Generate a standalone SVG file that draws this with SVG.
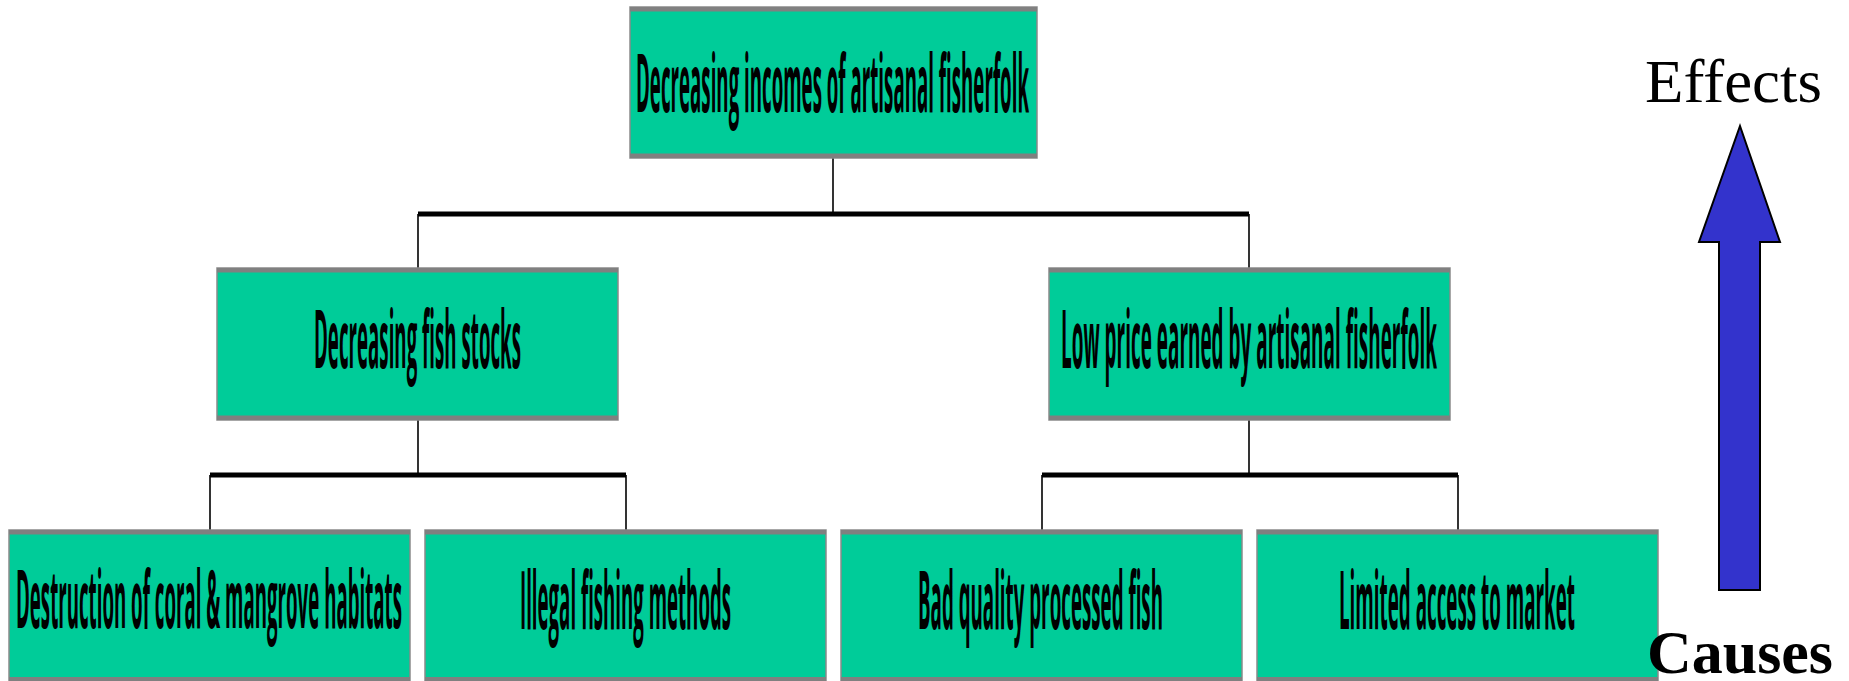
<svg xmlns="http://www.w3.org/2000/svg" width="1849" height="681" viewBox="0 0 1849 681">
  <style>
    .box { fill: #00CC99; stroke: #8a8a8a; stroke-width: 1.5; }
    .edge { fill: #808080; }
    .label { font-family: "Open Sans", "Noto Sans", sans-serif; font-weight: bold; font-size: 80px; fill: #000; text-anchor: middle; }
    .bar { stroke: #000; stroke-width: 5; fill: none; }
    .link { stroke: #000; stroke-width: 1.6; fill: none; }
    .side { font-family: "Liberation Serif", "Times New Roman", serif; fill: #000; }
  </style>

  <!-- connectors -->
  <g id="connectors">
    <line class="link" x1="833" y1="158" x2="833" y2="214"/>
    <line class="link" x1="418" y1="214" x2="418" y2="268"/>
    <line class="link" x1="1249" y1="214" x2="1249" y2="268"/>
    <line class="bar" x1="418" y1="214" x2="1249" y2="214"/>

    <line class="link" x1="418" y1="420" x2="418" y2="475"/>
    <line class="link" x1="210" y1="475" x2="210" y2="530"/>
    <line class="link" x1="626" y1="475" x2="626" y2="530"/>
    <line class="bar" x1="210" y1="475" x2="626" y2="475"/>

    <line class="link" x1="1249" y1="420" x2="1249" y2="475"/>
    <line class="link" x1="1042" y1="475" x2="1042" y2="530"/>
    <line class="link" x1="1458" y1="475" x2="1458" y2="530"/>
    <line class="bar" x1="1042" y1="475" x2="1458" y2="475"/>
  </g>

  <!-- effect -->
  <g id="node-income">
    <rect class="box" x="630" y="7" width="407" height="151"/>
    <rect class="edge" x="630" y="7" width="407" height="4.5"/>
    <rect class="edge" x="630" y="153.5" width="407" height="4.5"/>
    <text class="label" x="832.5" y="112" font-size="84" textLength="393" lengthAdjust="spacingAndGlyphs">Decreasing incomes of artisanal fisherfolk</text>
  </g>

  <!-- intermediate causes -->
  <g id="node-stocks">
    <rect class="box" x="217" y="268" width="401" height="152"/>
    <rect class="edge" x="217" y="268" width="401" height="4.5"/>
    <rect class="edge" x="217" y="415.5" width="401" height="4.5"/>
    <text class="label" x="417.5" y="368" textLength="207" lengthAdjust="spacingAndGlyphs">Decreasing fish stocks</text>
  </g>

  <g id="node-price">
    <rect class="box" x="1049" y="268" width="401" height="152"/>
    <rect class="edge" x="1049" y="268" width="401" height="4.5"/>
    <rect class="edge" x="1049" y="415.5" width="401" height="4.5"/>
    <text class="label" x="1249" y="368" textLength="376" lengthAdjust="spacingAndGlyphs">Low price earned by artisanal fisherfolk</text>
  </g>

  <!-- root causes -->
  <g id="node-habitats">
    <rect class="box" x="9" y="530" width="401" height="151"/>
    <rect class="edge" x="9" y="530" width="401" height="4.5"/>
    <rect class="edge" x="9" y="677" width="401" height="4.5"/>
    <text class="label" x="209" y="628" textLength="386" lengthAdjust="spacingAndGlyphs">Destruction of coral &amp; mangrove habitats</text>
  </g>

  <g id="node-illegal">
    <rect class="box" x="425" y="530" width="401" height="151"/>
    <rect class="edge" x="425" y="530" width="401" height="4.5"/>
    <rect class="edge" x="425" y="677" width="401" height="4.5"/>
    <text class="label" x="625.5" y="629" textLength="211" lengthAdjust="spacingAndGlyphs">Illegal fishing methods</text>
  </g>

  <g id="node-quality">
    <rect class="box" x="841" y="530" width="401" height="151"/>
    <rect class="edge" x="841" y="530" width="401" height="4.5"/>
    <rect class="edge" x="841" y="677" width="401" height="4.5"/>
    <text class="label" x="1040.5" y="629" textLength="245" lengthAdjust="spacingAndGlyphs">Bad quality processed fish</text>
  </g>

  <g id="node-market">
    <rect class="box" x="1257" y="530" width="401" height="151"/>
    <rect class="edge" x="1257" y="530" width="401" height="4.5"/>
    <rect class="edge" x="1257" y="677" width="401" height="4.5"/>
    <text class="label" x="1457" y="629" textLength="236" lengthAdjust="spacingAndGlyphs">Limited access to market</text>
  </g>

  <!-- direction legend: causes lead up to effects -->
  <g id="legend">
    <path d="M1740 126 L1780 242 L1760 242 L1760 590 L1719 590 L1719 242 L1699 242 Z" fill="#3333CC" stroke="#000" stroke-width="2" stroke-linejoin="miter"/>
    <text class="side" x="1645" y="102" font-size="61" textLength="177" lengthAdjust="spacingAndGlyphs">Effects</text>
    <text class="side" x="1647" y="673" font-size="61" font-weight="bold" textLength="186" lengthAdjust="spacingAndGlyphs">Causes</text>
  </g>
</svg>
